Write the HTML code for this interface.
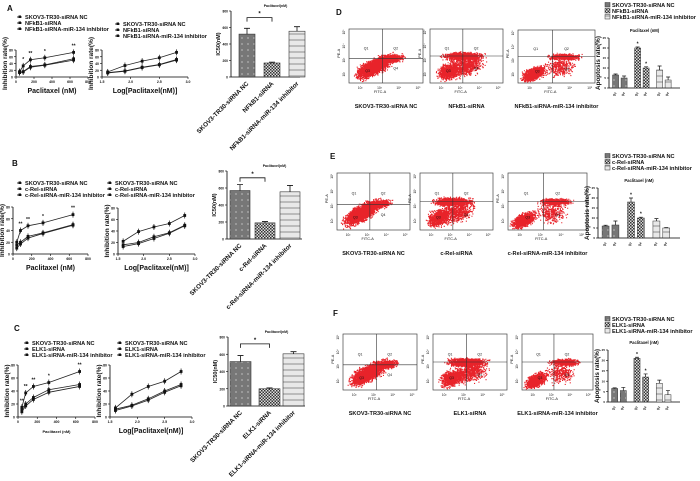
<!DOCTYPE html>
<html><head><meta charset="utf-8"><style>
html,body{margin:0;padding:0;background:#fff}
svg{display:block;font-family:"Liberation Sans",Arial,sans-serif}
</style></head><body>
<svg id="fig" width="700" height="481" viewBox="0 0 700 481" xmlns="http://www.w3.org/2000/svg"></svg>
<script>
// ---- data ----
const doses=[40,80,160,320,640];
const logDoses=[1.6,1.9,2.2,2.5,2.8];
const aLinSi=[16,33,51,57,73], aLinNC=[14,16,31,36,54], aLinInh=[13,15,29,35,50];
const aLogSi=[15,34,47,57,73], aLogNC=[13,18,29,37,52], aLogInh=[12,17,28,36,50];
const bLinSi=[20,40,48,53,67], bLinNC=[15,20,30,36,50], bLinInh=[10,17,27,35,49];
const bLogSi=[22,39,47,53,67], bLogNC=[16,20,30,37,50], bLogInh=[13,18,27,36,49];
const cLinSi=[15,37,47,53,70], cLinNC=[12,20,30,42,50], cLinInh=[8,17,27,38,47];
const cLogSi=[14,35,47,55,70], cLogNC=[12,18,28,40,50], cLogInh=[10,17,26,38,48];
const aIC=[520,170,555], aICerr=[70,10,55];
const bIC=[570,190,555], bICerr=[70,15,75];
const cIC=[515,200,605], cICerr=[70,10,25];
const dApo=[6.5,5,20,10,9,4], dErr=[0.5,1,0.5,0.6,2,1.5];
const eApo=[6,6.5,18,10,8.5,5], eErr=[0.4,2,2,0.4,1.2,0.2];
const fApo=[6.5,5.5,21,12,9,3.5], fErr=[0.3,1.5,0.5,1.5,1.5,2];
const linTicks=[0,200,400,600,800], yTicks=[0,20,40,60,80], logTicks=[1.5,2.0,2.5,3.0];
const icTicks=[0,200,400,600,800], apoTicks=[0,5,10,15,20,25];

const NS='http://www.w3.org/2000/svg', svg=document.getElementById('fig');
function el(tag,attrs,parent,txt){const e=document.createElementNS(NS,tag);for(const k in attrs)e.setAttribute(k,attrs[k]);if(txt!=null)e.textContent=txt;(parent||svg).appendChild(e);return e;}
function grp(name){const g=el('g',{},svg);


return g;}
const defs=el('defs',{});
let p=el('pattern',{id:'pDots',width:6,height:6,patternUnits:'userSpaceOnUse'},defs);
el('rect',{width:6,height:6,fill:'#777'},p);el('rect',{x:1,y:1,width:2,height:2,fill:'#999'},p);
p=el('pattern',{id:'pCheck',width:3,height:3,patternUnits:'userSpaceOnUse'},defs);
el('rect',{width:3,height:3,fill:'#ddd'},p);el('rect',{width:1.5,height:1.5,fill:'#333'},p);el('rect',{x:1.5,y:1.5,width:1.5,height:1.5,fill:'#333'},p);
p=el('pattern',{id:'pStripe',width:6,height:6,patternUnits:'userSpaceOnUse'},defs);
el('rect',{width:6,height:6,fill:'#e8e8e8'},p);el('rect',{y:3,width:6,height:2,fill:'#bbb'},p);
const fills=['url(#pDots)','url(#pCheck)','url(#pStripe)'];

function text(g,x,y,s,size,opts){opts=opts||{};const t=el('text',{x:x,y:y,'font-size':size,'font-weight':opts.w||'bold','text-anchor':opts.a||'start',fill:'#111'},g,s);if(opts.rot)t.setAttribute('transform',`rotate(${opts.rot} ${x} ${y})`);return t;}

function lineChart(name,x0,y0,x1,y1,xmin,xmax,ymax,xt,series,stars,xlabel,xlsize){
  const g=grp(name);
  const sx=v=>x0+(v-xmin)/(xmax-xmin)*(x1-x0), sy=v=>y1-v/ymax*(y1-y0);
  el('path',{d:`M${x0},${y0}V${y1}H${x1}`,stroke:'#000','stroke-width':0.8,fill:'none'},g);
  yTicks.forEach(v=>{el('line',{x1:x0-2,x2:x0,y1:sy(v),y2:sy(v),stroke:'#000','stroke-width':0.6},g);text(g,x0-3,sy(v)+1.5,v,3.5,{a:'end'});});
  xt.forEach(v=>{el('line',{x1:sx(v),x2:sx(v),y1:y1,y2:y1+2,stroke:'#000','stroke-width':0.6},g);text(g,sx(v),y1+6,xmax<10?v.toFixed(1):v,3.5,{a:'middle'});});
  series.forEach((s,i)=>{
    const xs=s.x;let d='';
    s.y.forEach((v,j)=>{d+=(j?'L':'M')+sx(xs[j])+','+sy(v);});
    el('path',{d:d,stroke:'#222','stroke-width':0.8,fill:'none'},g);
    s.y.forEach((v,j)=>{const cx=sx(xs[j]),cy=sy(v);
      el('line',{x1:cx,x2:cx,y1:cy-3,y2:cy+3,stroke:'#111','stroke-width':0.7},g);
      el('rect',{x:cx-1.4,y:cy-1.4,width:2.8,height:2.8,fill:'#111'},g);});
  });
  if(stars) stars.forEach((s,j)=>{if(s)text(g,sx(series[0].x[j]),sy(series[0].y[j])-5,s,5,{a:'middle'});});
  text(g,x0-9,(y0+y1)/2,'Inhibition rate(%)',6.5,{a:'middle',rot:-90});
  text(g,(x0+x1)/2,y1+16,xlabel,xlsize||7,{a:'middle'});
}
function legend(name,x,y,labels,size){const g=grp(name);labels.forEach((l,i)=>{
  el('line',{x1:x,x2:x+5,y1:y+i*6-2,y2:y+i*6-2,stroke:'#111','stroke-width':0.8},g);
  el('rect',{x:x+1.5,y:y+i*6-3.5,width:2.5,height:2.5,fill:'#111'},g);
  text(g,x+8,y+i*6,l,size||5.6);});}

function icChart(name,x0,y0,x1,y1,vals,errs,bx,bw,labels){
  const g=grp(name);const sy=v=>y1-v/800*(y1-y0);
  el('path',{d:`M${x0},${y0}V${y1}H${x1}`,stroke:'#000','stroke-width':0.8,fill:'none'},g);
  icTicks.forEach(v=>{el('line',{x1:x0-2,x2:x0,y1:sy(v),y2:sy(v),stroke:'#000','stroke-width':0.6},g);text(g,x0-3,sy(v)+1.5,v,3.3,{a:'end'});});
  vals.forEach((v,i)=>{const x=bx[i];
    el('rect',{x:x,y:sy(v),width:bw,height:y1-sy(v),fill:fills[i],stroke:'#333','stroke-width':0.6},g);
    const cx=x+bw/2;el('path',{d:`M${cx},${sy(v)}V${sy(v+errs[i])}M${cx-3},${sy(v+errs[i])}H${cx+3}`,stroke:'#111','stroke-width':0.8},g);
    text(g,cx+2,y1+7,labels[i],6.3,{a:'end',rot:-45});});
  const c0=bx[0]+bw/2,c1=bx[1]+bw/2,by=sy(Math.max(vals[0]+errs[0],700)+20);
  el('path',{d:`M${c0},${by+4}V${by}H${c1}V${by+4}`,stroke:'#111','stroke-width':0.8,fill:'none'},g);
  text(g,(c0+c1)/2,by-2,'*',6,{a:'middle'});
  text(g,(x0+x1)/2+10,y0-4,'Paclitaxel(nM)',3.5,{a:'middle'});
  text(g,x0-11,(y0+y1)/2,'IC50(nM)',5.5,{a:'middle',rot:-90});
}
function apoChart(name,x0,y0,x1,y1,vals,errs){
  const g=grp(name);const sy=v=>y1-v/25*(y1-y0);
  el('path',{d:`M${x0},${y0}V${y1}H${x1}`,stroke:'#000','stroke-width':0.8,fill:'none'},g);
  apoTicks.forEach(v=>{el('line',{x1:x0-2,x2:x0,y1:sy(v),y2:sy(v),stroke:'#000','stroke-width':0.6},g);text(g,x0-3,sy(v)+1.2,v,3,{a:'end'});});
  const w=(x1-x0), bw=w*0.085;
  vals.forEach((v,i)=>{const grpi=Math.floor(i/2);const x=x0+w*0.05+grpi*w*0.31+(i%2)*w*0.12;
    el('rect',{x:x,y:sy(v),width:bw,height:y1-sy(v),fill:fills[grpi],stroke:'#333','stroke-width':0.5},g);
    const cx=x+bw/2;el('path',{d:`M${cx},${sy(v)}V${sy(v+errs[i])}M${cx-2},${sy(v+errs[i])}H${cx+2}`,stroke:'#111','stroke-width':0.7},g);
    if(grpi==1)text(g,cx,sy(v+errs[i])-1.5,'*',5,{a:'middle'});
    text(g,cx+1,y1+5,i%2?'Q4':'Q2',3,{a:'end',rot:-60});});
  text(g,x0-9,(y0+y1)/2,'Apoptosis rate(%)',6.3,{a:'middle',rot:-90});
  text(g,(x0+x1)/2,y0-6,'Paclitaxel (nM)',4.2,{a:'middle'});
}
function apoLegend(name,x,y,labels){const g=grp(name);labels.forEach((l,i)=>{
  el('rect',{x:x,y:y+i*6-4.5,width:5,height:4.5,fill:fills[i],stroke:'#333','stroke-width':0.5},g);
  text(g,x+7,y+i*6,l,5.6);});}

// deterministic pseudo-scatter (decorative density)
let seed=7;function rnd(){seed=(seed*1103515245+12345)%2147483648;return seed/2147483648;}
function gauss(){return (rnd()+rnd()+rnd()-1.5)*1.3;}
function flow(name,x0,y0,x1,y1,caption,type){
  const g=grp(name);const w=x1-x0,h=y1-y0;
  el('rect',{x:x0,y:y0,width:w,height:h,fill:'#fff',stroke:'#444','stroke-width':0.7},g);
  const qx=x0+w*0.45,qy=y0+h*(type==0?0.55:0.5);
  const clusters=type==0?[[0.33,0.7,0.15,0.1,2600,-0.6],[0.55,0.55,0.12,0.05,900,-0.2]]
   :type==1?[[0.25,0.78,0.1,0.1,900,-0.3],[0.45,0.5,0.17,0.05,1300,0],[0.5,0.68,0.15,0.12,700,-0.3]]
   :[[0.2,0.82,0.1,0.08,1300,-0.5],[0.6,0.5,0.13,0.04,650,0],[0.55,0.7,0.12,0.12,350,0]];
  let d='';
  clusters.forEach(c=>{for(let i=0;i<c[4];i++){const a=gauss()*c[2],b=gauss()*c[3];
    let px=x0+w*(c[0]+a), py=y0+h*(c[1]+b+a*c[5]);
    if(px<x0+1||px>x1-1.5||py<y0+1||py>y1-1.5)continue;d+=`M${px.toFixed(1)},${py.toFixed(1)}h1.1v1.1h-1.1z`;}});
  el('path',{d:d,fill:'#e8232a'},g);
  el('line',{x1:qx,x2:qx,y1:y0,y2:y1,stroke:'#333','stroke-width':0.6},g);
  el('line',{x1:x0,x2:x1,y1:qy,y2:qy,stroke:'#333','stroke-width':0.6},g);
  text(g,x0+w*0.2,y0+h*0.38,'Q1',3.5,{w:'normal'});text(g,x0+w*0.6,y0+h*0.38,'Q2',3.5,{w:'normal'});
  text(g,x0+w*0.22,y0+h*0.8,'Q3',3.5,{w:'normal'});text(g,x0+w*0.6,y0+h*0.75,'Q4',3.5,{w:'normal'});
  ['10²','10³','10⁴','10⁵'].forEach((t,i)=>{text(g,x0+w*(0.12+i*0.26),y1+6,t,3.2,{w:'normal'});text(g,x0-4,y1-h*(0.12+i*0.26),t,3.2,{w:'normal',rot:-90});});
  text(g,x0+w*0.42,y1+10,'FITC-A',3.8,{w:'normal',a:'middle'});
  text(g,x0-9,y0+h*0.45,'PE-A',3.8,{w:'normal',a:'middle',rot:-90});
  text(g,(x0+x1)/2,y1+25,caption,5.6,{a:'middle'});
}
function panelLabel(s,x,y){const g=grp('panel-label-'+s.toLowerCase());text(g,x,y,s,8);}

const mk=(x,s,i,h)=>[{x:x,y:s},{x:x,y:i},{x:x,y:h}];
panelLabel('A',7,11);
legend('legend-a-linear',17,19,['SKOV3-TR30-siRNA NC','NFkB1-siRNA','NFkB1-siRNA-miR-134 inhibitor']);
legend('legend-a-log',115,26,['SKOV3-TR30-siRNA NC','NFkB1-siRNA','NFkB1-siRNA-miR-134 inhibitor']);
lineChart('chart-a-linear',16,50,88,77,0,800,80,linTicks,mk(doses,aLinSi,aLinNC,aLinInh),['','*','**','*','**'],'Paclitaxel (nM)');
lineChart('chart-a-log',102,50,188,77,1.5,3.0,80,logTicks,mk(logDoses,aLogSi,aLogNC,aLogInh),null,'Log[Paclitaxel(nM)]');
icChart('chart-a-ic50',231,11,300,77,aIC,aICerr,[239,264,289],16,['SKOV3-TR30-siRNA NC','NFkB1-siRNA','NFkB1-siRNA-miR-134 inhibitor']);
panelLabel('B',12,166);
legend('legend-b-linear',17,185,['SKOV3-TR30-siRNA NC','c-Rel-siRNA','c-Rel-siRNA-miR-134 inhibitor']);
legend('legend-b-log',107,185,['SKOV3-TR30-siRNA NC','c-Rel-siRNA','c-Rel-siRNA-miR-134 inhibitor']);
lineChart('chart-b-linear',13,207,88,254,0,800,80,linTicks,mk(doses,bLinSi,bLinNC,bLinInh),['','**','**','*','**'],'Paclitaxel (nM)');
lineChart('chart-b-log',118,208,195,254,1.5,3.0,80,logTicks,mk(logDoses,bLogSi,bLogNC,bLogInh),null,'Log[Paclitaxel(nM)]');
icChart('chart-b-ic50',227,171,302,239,bIC,bICerr,[230,255,280],20,['SKOV3-TR30-siRNA NC','c-Rel-siRNA','c-Rel-siRNA-miR-134 inhibitor']);
panelLabel('C',14,331);
legend('legend-c-linear',24,345,['SKOV3-TR30-siRNA NC','ELK1-siRNA','ELK1-siRNA-miR-134 inhibitor']);
legend('legend-c-log',117,345,['SKOV3-TR30-siRNA NC','ELK1-siRNA','ELK1-siRNA-miR-134 inhibitor']);
lineChart('chart-c-linear',18,365,95,417,0,800,80,linTicks,mk(doses,cLinSi,cLinNC,cLinInh),['**','**','**','*','**'],'Paclitaxel (nM)',4);
lineChart('chart-c-log',110,365,192,417,1.5,3.0,80,logTicks,mk(logDoses,cLogSi,cLogNC,cLogInh),null,'Log[Paclitaxel(nM)]');
icChart('chart-c-ic50',228,337,305,406,cIC,cICerr,[230,259,283],21,['SKOV3-TR30-siRNA NC','ELK1-siRNA','ELK1-siRNA-miR-134 inhibitor']);
panelLabel('D',336,15);
flow('flow-d-nc',349,29,423,83,'SKOV3-TR30-siRNA NC',0);
flow('flow-d-sirna',430,29,503,83,'NFkB1-siRNA',1);
flow('flow-d-inhibitor',518,30,595,83,'NFkB1-siRNA-miR-134 inhibitor',2);
apoLegend('legend-d',605,7,['SKOV3-TR30-siRNA NC','NFkB1-siRNA','NFkB1-siRNA-miR-134 inhibitor']);
apoChart('chart-d-apoptosis',609,38,680,88,dApo,dErr);
panelLabel('E',330,159);
flow('flow-e-nc',337,173,410,230,'SKOV3-TR30-siRNA NC',0);
flow('flow-e-sirna',420,173,493,230,'c-Rel-siRNA',1);
flow('flow-e-inhibitor',508,173,587,230,'c-Rel-siRNA-miR-134 inhibitor',2);
apoLegend('legend-e',605,158,['SKOV3-TR30-siRNA NC','c-Rel-siRNA','c-Rel-siRNA-miR-134 inhibitor']);
apoChart('chart-e-apoptosis',598,188,680,238,eApo,eErr);
panelLabel('F',333,316);
flow('flow-f-nc',343,334,417,390,'SKOV3-TR30-siRNA NC',0);
flow('flow-f-sirna',433,334,507,390,'ELK1-siRNA',1);
flow('flow-f-inhibitor',522,334,593,390,'ELK1-siRNA-miR-134 inhibitor',2);
apoLegend('legend-f',605,321,['SKOV3-TR30-siRNA NC','ELK1-siRNA','ELK1-siRNA-miR-134 inhibitor']);
apoChart('chart-f-apoptosis',608,350,680,402,fApo,fErr);
</script>
</body></html>
